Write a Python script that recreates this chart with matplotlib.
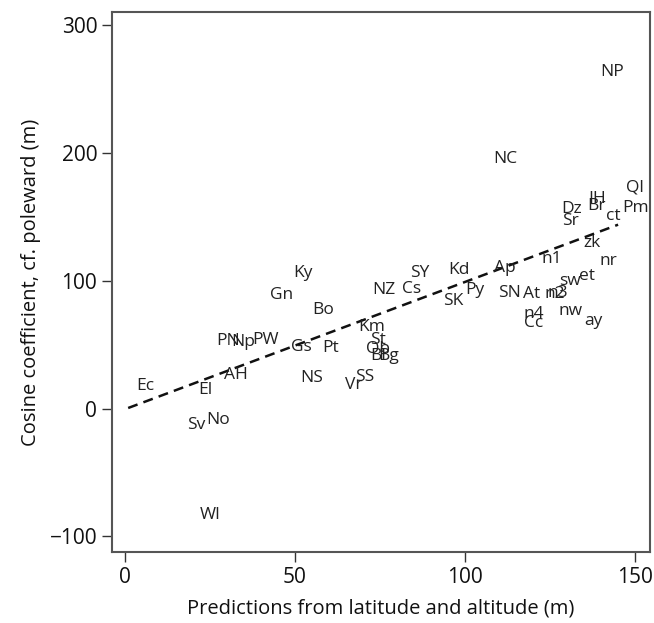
"""Cosine coefficient against predictions from latitude and altitude."""

import matplotlib
matplotlib.use('Agg')
import matplotlib.pyplot as plt

plt.rcParams['font.family'] = ['Open Sans', 'DejaVu Sans']

# site labels with their predicted and observed values (m)
labels = ['NP', 'NC', 'Ql', 'Pm', 'Dz', 'Sr', 'IH', 'Br', 'ct', 'zk',
          'n1', 'nr', 'Ap', 'et', 'sw', 'SN', 'At', 'n2', 'n3', 'nw',
          'ay', 'n4', 'Cc', 'SY', 'Kd', 'NZ', 'Cs', 'Py', 'SK', 'Ky',
          'Gn', 'Bo', 'Km', 'St', 'Ob', 'Bl', 'Bg', 'Pt', 'Gs', 'PN',
          'Np', 'PW', 'AH', 'Ec', 'El', 'NS', 'Vr', 'SS', 'Sv', 'No',
          'WI']
predicted = [143.1, 111.8, 150.0, 150.0, 131.2, 130.9, 138.7, 138.7, 143.6, 137.2,
             125.5, 142.2, 111.8, 135.8, 130.9, 113.2, 119.6, 126.5, 127.3, 130.9,
             137.7, 120.1, 120.1, 86.6, 98.3, 76.2, 84.3, 102.9, 96.6, 52.4,
             46.1, 58.3, 72.5, 74.5, 74.4, 74.5, 77.5, 60.5, 52.0, 30.3,
             34.7, 41.5, 32.6, 6.1, 23.8, 54.9, 67.2, 70.6, 21.1, 27.5,
             25.0]
observed = [263.3, 195.3, 173.0, 157.4, 156.1, 146.9, 163.9, 158.7, 150.8, 130.0,
            116.9, 115.5, 110.3, 103.8, 99.8, 90.7, 89.4, 89.4, 90.5, 76.3,
            68.5, 73.7, 67.2, 105.9, 108.5, 92.8, 93.9, 92.8, 84.2, 106.4,
            88.9, 77.1, 64.1, 54.1, 46.3, 41.0, 41.0, 47.6, 48.5, 53.3,
            51.8, 54.0, 26.7, 18.0, 14.9, 24.1, 18.8, 24.9, -12.5, -8.6,
            -83.1]

# fitted line
fit_x = [1, 145]
fit_y = [0.5, 144.0]

fig = plt.figure(figsize=(6.54, 6.23), dpi=100)
ax = fig.add_axes([0.171, 0.114, 0.823, 0.867])

for lab, xv, yv in zip(labels, predicted, observed):
    ax.text(xv, yv, lab, fontsize=12.5, color='#222222',
            ha='center', va='center')

ax.plot(fit_x, fit_y, '--', color='#111111', lw=1.8, dashes=(4, 2.5))

ax.set_xlim(-3.8, 154.4)
ax.set_ylim(-112.2, 310.6)
ax.set_xticks([0, 50, 100, 150])
ax.set_yticks([-100, 0, 100, 200, 300])
ax.tick_params(direction='out', length=7, width=1, labelsize=15,
               colors='#333333', labelcolor='#111111')
for sp in ax.spines.values():
    sp.set_color('#555555')
    sp.set_linewidth(1.5)

ax.set_xlabel('Predictions from latitude and altitude (m)', fontsize=14.5,
              color='#111111', labelpad=8)
ax.set_ylabel('Cosine coefficient, cf. poleward (m)', fontsize=14.5,
              color='#111111', labelpad=6)

fig.savefig('out.png', dpi=100)
